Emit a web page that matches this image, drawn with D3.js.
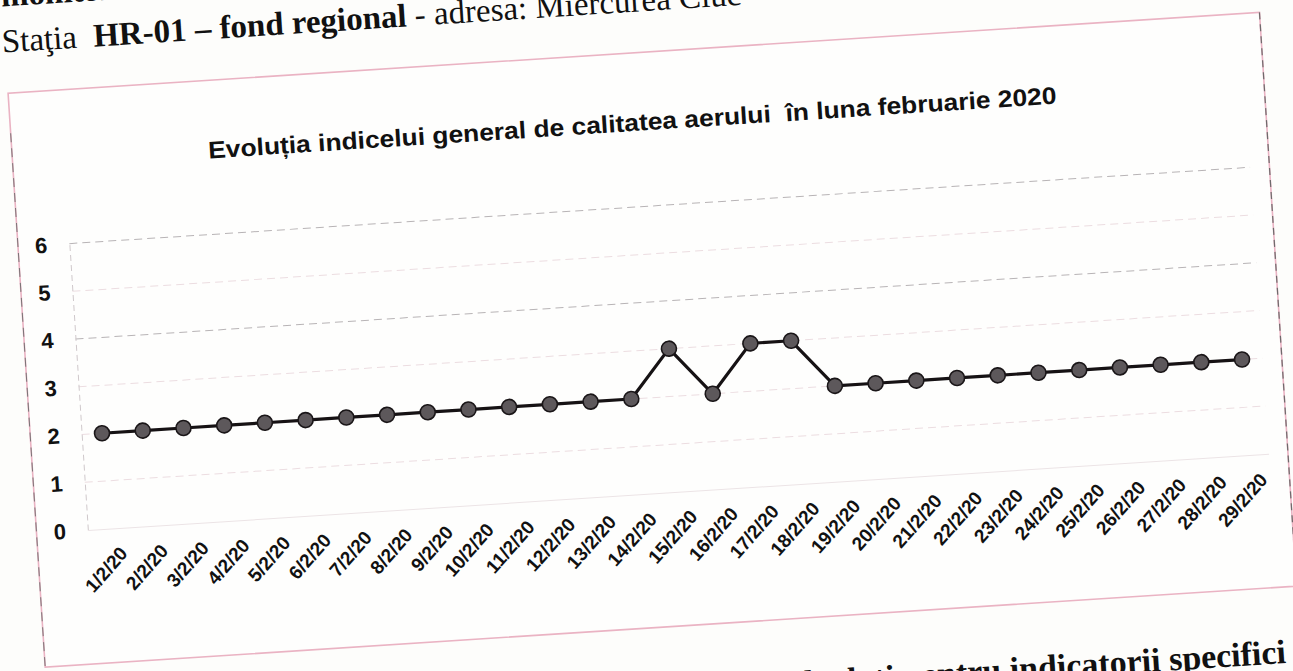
<!DOCTYPE html>
<html>
<head>
<meta charset="utf-8">
<script src="https://cdn.jsdelivr.net/npm/d3@7"></script>
<style>
  html, body { margin: 0; padding: 0; background: #fdfdfb; }
  svg { display: block; }
  text { font-family: Arial, "Liberation Sans", sans-serif; }
</style>
</head>
<body>
<svg id="chart" width="1293" height="671"></svg>
<script>
// ---- data ----
const dates = ["1/2/20","2/2/20","3/2/20","4/2/20","5/2/20","6/2/20","7/2/20","8/2/20","9/2/20","10/2/20",
  "11/2/20","12/2/20","13/2/20","14/2/20","15/2/20","16/2/20","17/2/20","18/2/20","19/2/20","20/2/20",
  "21/2/20","22/2/20","23/2/20","24/2/20","25/2/20","26/2/20","27/2/20","28/2/20","29/2/20"];
const indexValues = [2,2,2,2,2,2,2,2,2,2,2,2,2,2,3,2,3,3,2,2,2,2,2,2,2,2,2,2,2];
const yTicks = [0,1,2,3,4,5,6];
const chartTitle = "Evoluția indicelui general de calitatea aerului  în luna februarie 2020";
const headerTop = "monitorizare a calității aerului";
const headerPlain = "Staţia  ";
const headerBold = "HR-01 – fond regional";
const headerRest = " - adresa: Miercurea Ciuc";
const footerText = "Evoluția indicilor specifici calculați pentru indicatorii specifici";

// ---- layout (unrotated frame; the scanned page is tilted) ----
const svg = d3.select("#chart");
const page = svg.append("g").attr("transform", "rotate(-3.7, 640, 335)");

const box = {x0: 25, y0: 53, x1: 1279, y1: 628};
const plot = {left: 76.4, right: 1259.6, top: 207, bottom: 494};

const x = d3.scaleBand().domain(dates).range([plot.left, plot.right]);
const y = d3.scaleLinear().domain([0, 6]).range([plot.bottom, plot.top]);
const cx = d => x(d) + x.bandwidth() / 2;

// header lines of the document
page.append("text").attr("x", 24).attr("y", -34)
  .style("font-family", "'Liberation Serif', 'Times New Roman', serif")
  .style("font-size", "33px").style("font-weight", "bold").attr("fill", "#111")
  .text(headerTop);
const hdr = page.append("text").attr("x", 22).attr("y", 12)
  .style("font-family", "'Liberation Serif', 'Times New Roman', serif")
  .style("font-size", "33px").attr("fill", "#111").style("white-space", "pre");
hdr.append("tspan").text(headerPlain);
hdr.append("tspan").style("font-weight", "bold").text(headerBold);
hdr.append("tspan").text(headerRest);

// chart frame
page.append("rect")
  .attr("x", box.x0).attr("y", box.y0)
  .attr("width", box.x1 - box.x0).attr("height", box.y1 - box.y0)
  .attr("fill", "#fefefd").attr("stroke", "#eab3c3").attr("stroke-width", 1.6);
page.append("line").attr("x1", box.x1).attr("x2", box.x1).attr("y1", box.y0).attr("y2", box.y1)
  .attr("stroke", "#6d6a6b").attr("stroke-width", 1.2).attr("stroke-dasharray", "7,5");
page.append("line").attr("x1", box.x0).attr("x2", box.x0).attr("y1", box.y0 + 40).attr("y2", box.y1)
  .attr("stroke", "#7a7476").attr("stroke-width", 1).attr("stroke-dasharray", "9,6");

// title
page.append("text")
  .attr("x", 646).attr("y", 131)
  .attr("text-anchor", "middle")
  .attr("textLength", 850).attr("lengthAdjust", "spacingAndGlyphs")
  .style("white-space", "pre")
  .style("font-size", "24px").style("font-weight", "bold").attr("fill", "#111")
  .text(chartTitle);

// gridlines
page.append("g").selectAll("line").data(yTicks.filter(t => t > 0)).join("line")
  .attr("x1", plot.left).attr("x2", plot.right)
  .attr("y1", d => y(d)).attr("y2", d => y(d))
  .attr("stroke", d => (d === 6 || d === 4) ? "#b8b4b6" : "#ecdde1")
  .attr("stroke-width", 1)
  .attr("stroke-dasharray", "8,5");

// y axis
const yAxis = page.append("g").attr("transform", `translate(${plot.left},0)`)
  .call(d3.axisLeft(y).tickValues(yTicks).tickSize(0).tickPadding(22).tickFormat(d3.format("d")));
yAxis.select(".domain").attr("stroke", "#cfc8cb").attr("stroke-dasharray", "6,4");
yAxis.selectAll("text").style("font-size", "22px").style("font-weight", "bold").attr("fill", "#111");

// x axis
const xAxis = page.append("g").attr("transform", `translate(0,${plot.bottom})`)
  .call(d3.axisBottom(x).tickSize(0).tickPadding(0));
xAxis.select(".domain").attr("stroke", "#ece4e6");
xAxis.selectAll("text")
  .attr("text-anchor", "end")
  .attr("x", 0).attr("y", 0).attr("dy", "0.35em")
  .attr("transform", "translate(14,22) rotate(-45)")
  .style("font-size", "19px").style("font-weight", "bold").attr("fill", "#111");

// line + markers
const line = d3.line().x((d, i) => cx(dates[i])).y(d => y(d));
page.append("path").datum(indexValues)
  .attr("d", line).attr("fill", "none")
  .attr("stroke", "#161214").attr("stroke-width", 3.2).attr("stroke-linejoin", "round");
page.append("g").selectAll("circle").data(indexValues).join("circle")
  .attr("cx", (d, i) => cx(dates[i])).attr("cy", d => y(d))
  .attr("r", 7.5).attr("fill", "#5d585b").attr("stroke", "#1a1618").attr("stroke-width", 1.6);

// footer heading (cut by the page edge)
page.append("text").attr("x", 1264).attr("y", 704).attr("text-anchor", "end")
  .style("font-family", "'Liberation Serif', 'Times New Roman', serif")
  .style("font-size", "34px").style("font-weight", "bold").attr("fill", "#111")
  .text(footerText);
</script>
</body>
</html>
